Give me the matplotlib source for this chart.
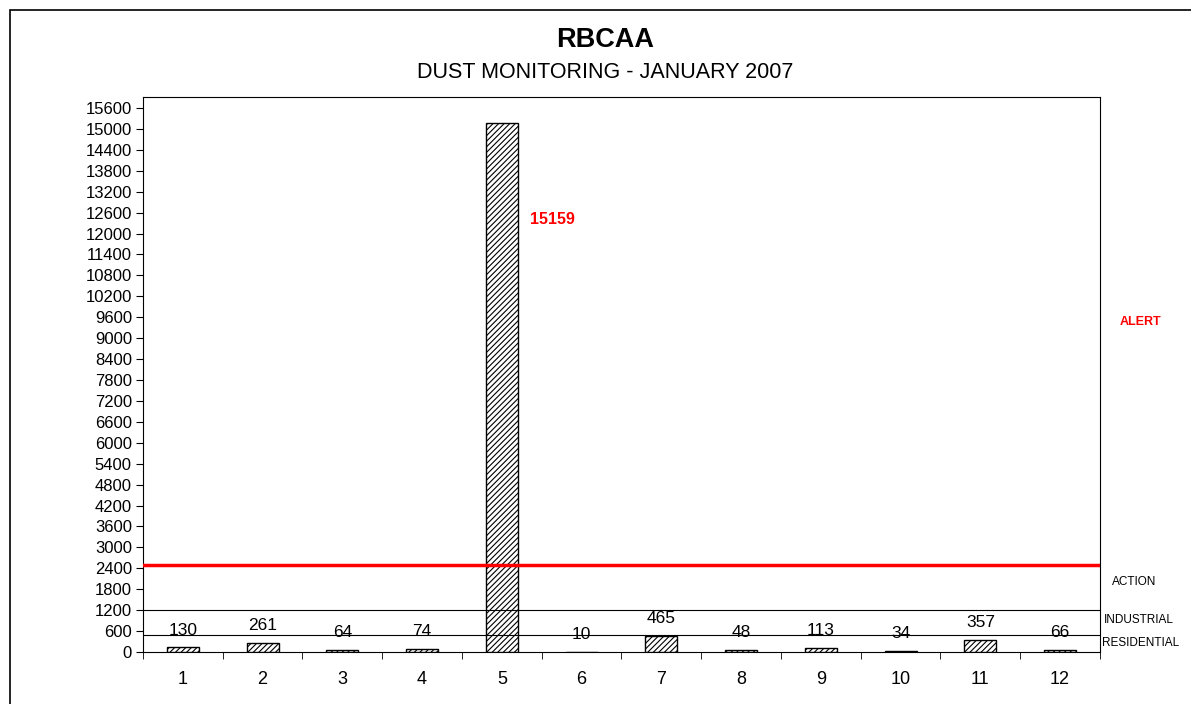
import matplotlib.pyplot as plt
from matplotlib.patches import Rectangle

plt.rcParams['font.family'] = ['Liberation Sans', 'DejaVu Sans']
plt.rcParams['hatch.linewidth'] = 0.8

# data
sites = ['1', '2', '3', '4', '5', '6', '7', '8', '9', '10', '11', '12']
dust = [130, 261, 64, 74, 15159, 10, 465, 48, 113, 34, 357, 66]
limit_names = ['ALERT', 'ACTION', 'INDUSTRIAL', 'RESIDENTIAL']
limit_values = [2500, 2500, 1200, 500]
y_ticks = list(range(0, 15601, 600))


def main():
    fig = plt.figure(figsize=(11.91, 7.04), dpi=100)
    ax = fig.add_axes([143 / 1191, 52 / 704, 957 / 1191, 555 / 704])

    x = list(range(len(sites)))
    ax.bar(x, dust, width=0.4, color='white', edgecolor='black',
           hatch='//////', linewidth=1.0, zorder=3)

    # limit lines (drawn over the bars)
    ax.axhline(limit_values[0], color='red', linewidth=2.5, zorder=5)
    ax.axhline(limit_values[2], color='black', linewidth=0.8, zorder=4)
    ax.axhline(limit_values[3], color='black', linewidth=0.8, zorder=4)

    # data labels
    for i, v in enumerate(dust):
        if v > 10000:
            ax.text(i + 0.35, v - 2770, str(v), color='red', fontsize=11.5,
                    fontweight='bold', ha='left', va='center')
        else:
            ax.text(i, v + 500, str(v), fontsize=12.5, ha='center',
                    va='center', zorder=6)

    ax.set_xlim(-0.5, len(sites) - 0.5)
    ax.set_ylim(0, 15915)
    ax.set_yticks(y_ticks)
    ax.tick_params(axis='y', labelsize=12, length=5, direction='out', pad=3)
    ax.set_xticks(x)
    ax.set_xticklabels(sites, fontsize=13)
    ax.tick_params(axis='x', length=0, pad=14)
    # ticks between categories
    ax.set_xticks([i + 0.5 for i in range(-1, len(sites))], minor=True)
    ax.tick_params(axis='x', which='minor', length=5, direction='out')
    for s in ax.spines.values():
        s.set_linewidth(0.8)

    # limit labels on the right
    trans = ax.get_yaxis_transform()
    ax.text(1.021, 9460, limit_names[0], transform=trans, color='red',
            fontsize=9, fontweight='bold', ha='left', va='center')
    ax.text(1.013, 2000, limit_names[1], transform=trans, fontsize=8.5,
            ha='left', va='center')
    ax.text(1.004, 920, limit_names[2], transform=trans, fontsize=8.5,
            ha='left', va='center')
    ax.text(1.002, 250, limit_names[3], transform=trans, fontsize=8.5,
            ha='left', va='center')

    fig.text(605 / 1191, 1 - 40 / 704, 'RBCAA', fontsize=19.5,
             fontweight='bold', ha='center', va='center')
    fig.text(605 / 1191, 1 - 72 / 704, 'DUST MONITORING - JANUARY 2007',
             fontsize=15.5, ha='center', va='center')

    # outer border of the chart area
    fig.patches.append(Rectangle((10 / 1191, -0.1), 1.2, 1.1 - 10 / 704,
                                 transform=fig.transFigure, fill=False,
                                 edgecolor='black', linewidth=1.2))

    fig.savefig('out.png', dpi=100)
    plt.close()


if __name__ == '__main__':
    main()
